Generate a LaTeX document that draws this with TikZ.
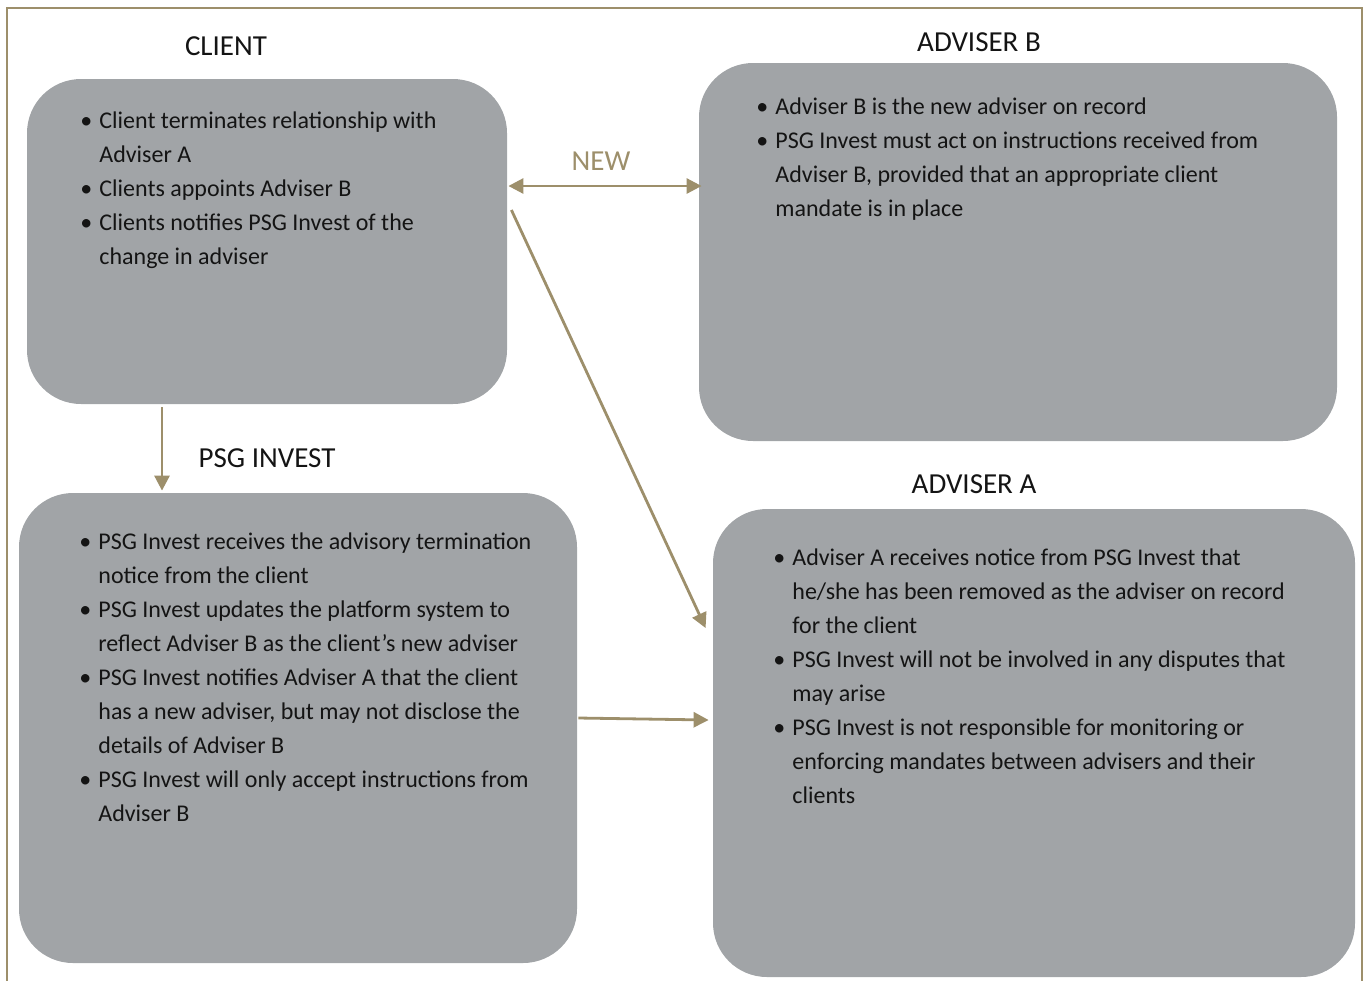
\documentclass[tikz,border=0pt]{standalone}
\usepackage{fontspec}
\setmainfont{Carlito}
\usepackage{xcolor}
\usepackage{tikz}
\usetikzlibrary{positioning,arrows.meta,calc,fit}
\definecolor{slate}{HTML}{A1A4A7}
\definecolor{gold}{HTML}{9D8F6B}
\definecolor{ink}{HTML}{141414}
\newcommand{\itm}{\makebox[9.5pt][l]{\textbullet}}
\newcommand{\cnt}{\hspace*{9.5pt}}

\begin{document}
\begin{tikzpicture}[x=0.5pt,y=-0.5pt,
  box/.style={fill=slate,rounded corners=27pt,inner sep=0pt},
  head/.style={anchor=base,inner sep=0pt,font=\fontsize{14.5}{17}\selectfont,text=ink},
  % lists are placed by their top: first baseline sits 8pt below it
  list/.style={anchor=north west,inner sep=0pt,align=left,text=ink,
    font=\fontsize{12}{17}\selectfont,execute at begin node=\rule{0pt}{8pt}},
  link/.style={draw=gold,line width=1.4pt,-{Triangle[length=7.5pt,width=7.5pt]}}]
  \useasboundingbox (0,0) rectangle (1368,980);
  \draw[gold,line width=1pt] (7,8) rectangle (1362,990);

  % the four boxes
  \node[box,fit={(27,79) (507,404)}] (client) {};
  \node[box,fit={(699,63) (1337,441)}] (advb) {};
  \node[box,fit={(19,493) (577,963)}] (psg) {};
  \node[box,fit={(713,509) (1355,977)}] (ada) {};

  % headings
  \node[head] (hclient) at (226,55) {CLIENT};
  \node[head] (hadvb) at (979,51) {ADVISER B};
  \node[head] (hpsg) at (267,467) {PSG INVEST};
  \node[head] (hada) at (974,493) {ADVISER A};
  \node[head,text=gold] (hnew) at (601,170) {NEW};

  % bullet lists
  \node[list] (tclient) at (80,111) {%
    \itm Client terminates relationship with\\
    \cnt Adviser A\\
    \itm Clients appoints Adviser B\\
    \itm Clients notifies PSG Invest of the\\
    \cnt change in adviser};
  \node[list] (tadvb) at (756,97) {%
    \itm Adviser B is the new adviser on record\\
    \itm PSG Invest must act on instructions received from\\
    \cnt Adviser B, provided that an appropriate client\\
    \cnt mandate is in place};
  \node[list] (tpsg) at (79,532) {%
    \itm PSG Invest receives the advisory termination\\
    \cnt notice from the client\\
    \itm PSG Invest updates the platform system to\\
    \cnt reflect Adviser B as the client’s new adviser\\
    \itm PSG Invest notifies Adviser A that the client\\
    \cnt has a new adviser, but may not disclose the\\
    \cnt details of Adviser B\\
    \itm PSG Invest will only accept instructions from\\
    \cnt Adviser B};
  \node[list] (tada) at (773,548) {%
    \itm Adviser A receives notice from PSG Invest that\\
    \cnt he/she has been removed as the adviser on record\\
    \cnt for the client\\
    \itm PSG Invest will not be involved in any disputes that\\
    \cnt may arise\\
    \itm PSG Invest is not responsible for monitoring or\\
    \cnt enforcing mandates between advisers and their\\
    \cnt clients};

  % connectors
  \coordinate (nw) at ($(client.east)+(1,-55.5)$);
  \draw[link,{Triangle[length=7.5pt,width=7.5pt]}-{Triangle[length=7.5pt,width=7.5pt]}]
    (nw) -- ($(nw -| advb.west)+(3,0)$);
  \coordinate (dn) at ($(client.south)+(-105,3)$);
  \draw[link] (dn) -- ($(dn |- psg.north)+(0,-2)$);
  \draw[link] ($(client.east)+(4,-31.5)$) -- ($(ada.west)+(-7,-115)$);
  \draw[link] ($(psg.east)+(1,-10)$) -- ($(ada.west)+(-4,-23)$);
\end{tikzpicture}
\end{document}
